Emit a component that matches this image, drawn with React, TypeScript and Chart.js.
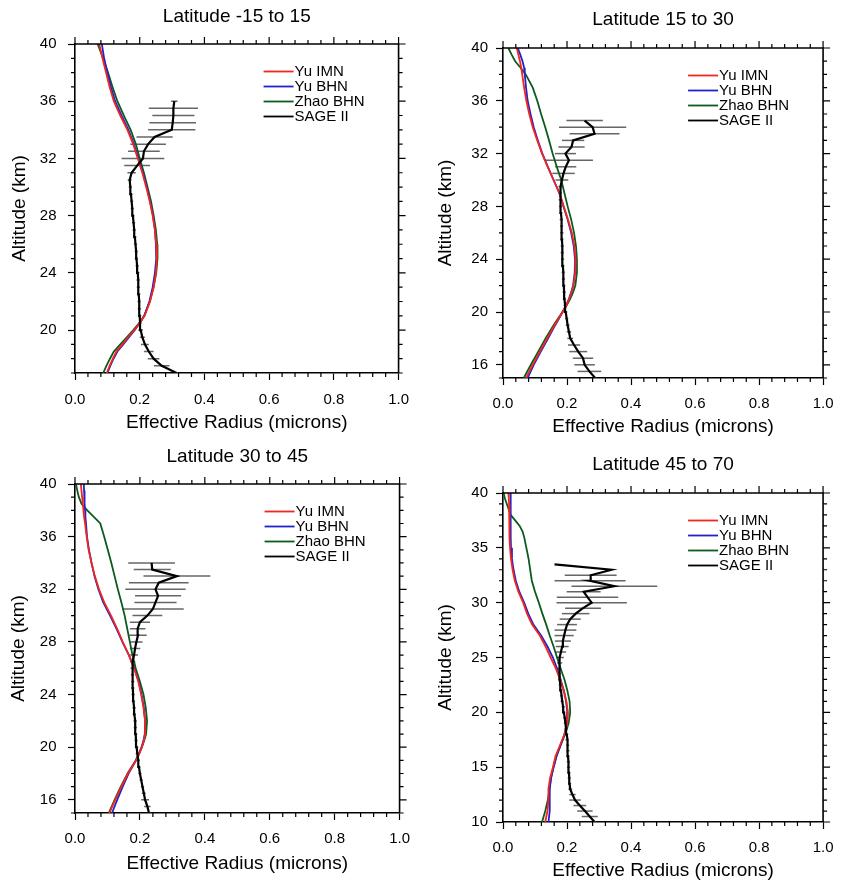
import React, { useEffect, useRef } from "react";
import { Chart, registerables } from "chart.js";

Chart.register(...registerables);

const FONT = "'Liberation Sans', Arial, Helvetica, sans-serif";

const seriesLabels = ["Yu IMN", "Yu BHN", "Zhao BHN", "SAGE II"];
const seriesColors = ["#f2261c", "#2222cc", "#0b5a1f", "#000000"];
const xTitle = "Effective Radius (microns)";
const yTitle = "Altitude (km)";
const xTickValues = [0, 0.2, 0.4, 0.6, 0.8, 1.0];
const xMinorStep = 0.04;
const yMinorStep = 1;

// ---------- Panel 1: Latitude -15 to 15 ----------
const p1Title = "Latitude -15 to 15";
const p1YMin = 17;
const p1YTicks = [20, 24, 28, 32, 36, 40];
const p1ModelAlt = [40, 39, 38, 37, 36, 35, 34, 33, 32, 31, 30, 29, 28, 27, 26, 25, 24, 23, 22, 21, 20.5, 20, 19.5, 19, 18.5, 18, 17.5, 17];
const p1YuIMN = [0.075, 0.085, 0.096, 0.107, 0.12, 0.14, 0.162, 0.18, 0.194, 0.208, 0.22, 0.231, 0.24, 0.247, 0.251, 0.253, 0.25, 0.243, 0.232, 0.215, 0.2, 0.183, 0.164, 0.146, 0.128, 0.117, 0.107, 0.098];
const p1YuBHN = [0.083, 0.09, 0.1, 0.111, 0.124, 0.144, 0.165, 0.182, 0.196, 0.21, 0.222, 0.232, 0.241, 0.247, 0.25, 0.251, 0.247, 0.24, 0.23, 0.214, 0.2, 0.185, 0.167, 0.149, 0.131, 0.119, 0.109, 0.1];
const p1ZhaoBHN = [0.07, 0.087, 0.102, 0.116, 0.131, 0.151, 0.172, 0.188, 0.2, 0.213, 0.224, 0.235, 0.243, 0.25, 0.254, 0.255, 0.251, 0.243, 0.231, 0.214, 0.199, 0.18, 0.16, 0.14, 0.12, 0.108, 0.097, 0.087];
const p1SageAlt = [17, 17.5, 18, 18.5, 19, 19.5, 20, 20.5, 21, 21.5, 22, 22.5, 23, 23.5, 24, 24.5, 25, 25.5, 26, 26.5, 27, 27.5, 28, 28.5, 29, 29.5, 30, 30.5, 31, 31.5, 32, 32.5, 33, 33.5, 34, 34.5, 35, 35.5, 36];
const p1Sage = [0.314, 0.268, 0.243, 0.228, 0.216, 0.208, 0.203, 0.201, 0.2, 0.199, 0.198, 0.197, 0.196, 0.195, 0.194, 0.192, 0.19, 0.189, 0.187, 0.185, 0.183, 0.181, 0.179, 0.177, 0.175, 0.173, 0.171, 0.169, 0.175, 0.192, 0.21, 0.213, 0.226, 0.246, 0.299, 0.302, 0.304, 0.304, 0.307];
const p1SageErr = [0.004, 0.024, 0.018, 0.015, 0.012, 0.008, 0.007, 0.005, 0.005, 0.005, 0.005, 0.005, 0.005, 0.005, 0.005, 0.005, 0.005, 0.005, 0.005, 0.005, 0.005, 0.005, 0.005, 0.005, 0.005, 0.005, 0.005, 0.006, 0.013, 0.04, 0.066, 0.049, 0.055, 0.056, 0.073, 0.072, 0.065, 0.076, 0.01];

// ---------- Panel 2: Latitude 15 to 30 ----------
const p2Title = "Latitude 15 to 30";
const p2YMin = 15;
const p2YTicks = [16, 20, 24, 28, 32, 36, 40];
const p2ModelAlt = [40, 39.5, 39, 38.5, 38, 37, 36, 35, 34, 33, 32, 31, 30, 29, 28, 27, 26, 25, 24, 23, 22, 21.5, 21, 20.5, 20, 19.5, 19, 18, 17, 16, 15];
const p2YuIMN = [0.043, 0.048, 0.053, 0.057, 0.06, 0.066, 0.073, 0.082, 0.093, 0.107, 0.122, 0.14, 0.158, 0.177, 0.19, 0.203, 0.215, 0.223, 0.227, 0.226, 0.22, 0.214, 0.207, 0.198, 0.186, 0.174, 0.161, 0.138, 0.115, 0.093, 0.072];
const p2YuBHN = [0.046, 0.054, 0.061, 0.066, 0.068, 0.072, 0.077, 0.086, 0.096, 0.109, 0.123, 0.14, 0.158, 0.176, 0.189, 0.202, 0.213, 0.221, 0.225, 0.224, 0.219, 0.213, 0.206, 0.197, 0.186, 0.175, 0.163, 0.141, 0.118, 0.096, 0.077];
const p2ZhaoBHN = [0.017, 0.027, 0.038, 0.055, 0.071, 0.093, 0.107, 0.119, 0.132, 0.144, 0.155, 0.168, 0.182, 0.192, 0.202, 0.213, 0.222, 0.228, 0.231, 0.231, 0.226, 0.219, 0.21, 0.199, 0.186, 0.172, 0.158, 0.133, 0.11, 0.087, 0.065];
const p2SageAlt = [15, 15.5, 16, 16.5, 17, 17.5, 18, 18.5, 19, 19.5, 20, 20.5, 21, 21.5, 22, 22.5, 23, 23.5, 24, 24.5, 25, 25.5, 26, 26.5, 27, 27.5, 28, 28.5, 29, 29.5, 30, 30.5, 31, 31.5, 32, 32.5, 33, 33.5, 34, 34.5];
const p2Sage = [0.288, 0.27, 0.255, 0.25, 0.235, 0.222, 0.21, 0.206, 0.202, 0.199, 0.196, 0.194, 0.192, 0.191, 0.19, 0.189, 0.188, 0.187, 0.186, 0.185, 0.185, 0.184, 0.184, 0.183, 0.182, 0.181, 0.18, 0.179, 0.179, 0.181, 0.184, 0.189, 0.196, 0.206, 0.195, 0.214, 0.219, 0.286, 0.28, 0.255];
const p2SageErr = [0.004, 0.037, 0.032, 0.032, 0.028, 0.019, 0.009, 0.007, 0.006, 0.005, 0.005, 0.005, 0.005, 0.005, 0.005, 0.005, 0.005, 0.005, 0.005, 0.005, 0.005, 0.005, 0.005, 0.005, 0.005, 0.005, 0.005, 0.005, 0.005, 0.008, 0.02, 0.035, 0.033, 0.075, 0.033, 0.041, 0.035, 0.078, 0.105, 0.057];

// ---------- Panel 3: Latitude 30 to 45 ----------
const p3Title = "Latitude 30 to 45";
const p3YMin = 15;
const p3YTicks = [16, 20, 24, 28, 32, 36, 40];
const p3ModelAlt = [40, 39.5, 39, 38.5, 38, 37.5, 37, 36, 35, 34, 33, 32, 31, 30, 29, 28, 27, 26, 25, 24, 23, 22, 21, 20.5, 20, 19.5, 19, 18, 17, 16, 15];
const p3YuIMN = [0.018, 0.02, 0.022, 0.024, 0.026, 0.028, 0.031, 0.036, 0.042, 0.051, 0.061, 0.074, 0.09, 0.111, 0.13, 0.147, 0.166, 0.182, 0.195, 0.204, 0.211, 0.216, 0.216, 0.212, 0.206, 0.198, 0.188, 0.163, 0.143, 0.124, 0.106];
const p3YuBHN = [0.027, 0.028, 0.029, 0.03, 0.031, 0.032, 0.034, 0.037, 0.043, 0.051, 0.06, 0.072, 0.087, 0.108, 0.128, 0.146, 0.166, 0.183, 0.196, 0.205, 0.212, 0.216, 0.215, 0.211, 0.205, 0.197, 0.188, 0.165, 0.147, 0.13, 0.114];
const p3ZhaoBHN = [0.003, 0.007, 0.012, 0.02, 0.038, 0.058, 0.078, 0.09, 0.101, 0.112, 0.122, 0.132, 0.143, 0.153, 0.161, 0.169, 0.177, 0.187, 0.2, 0.211, 0.218, 0.222, 0.219, 0.213, 0.206, 0.197, 0.187, 0.162, 0.141, 0.122, 0.104];
const p3SageAlt = [15, 15.5, 16, 16.5, 17, 17.5, 18, 18.5, 19, 19.5, 20, 20.5, 21, 21.5, 22, 22.5, 23, 23.5, 24, 24.5, 25, 25.5, 26, 26.5, 27, 27.5, 28, 28.5, 29, 29.5, 30, 30.5, 31, 31.5, 32, 32.5, 33, 33.5, 34];
const p3Sage = [0.228, 0.223, 0.216, 0.212, 0.208, 0.204, 0.2, 0.197, 0.195, 0.192, 0.19, 0.188, 0.187, 0.186, 0.185, 0.183, 0.182, 0.18, 0.179, 0.178, 0.178, 0.177, 0.177, 0.178, 0.182, 0.185, 0.189, 0.194, 0.193, 0.2, 0.223, 0.24, 0.248, 0.256, 0.248, 0.258, 0.314, 0.238, 0.236];
const p3SageErr = [0.004, 0.01, 0.012, 0.006, 0.005, 0.005, 0.005, 0.005, 0.005, 0.005, 0.005, 0.005, 0.005, 0.005, 0.005, 0.005, 0.005, 0.005, 0.005, 0.005, 0.005, 0.005, 0.006, 0.008, 0.012, 0.016, 0.019, 0.027, 0.024, 0.031, 0.046, 0.095, 0.065, 0.071, 0.093, 0.092, 0.103, 0.057, 0.072];

// ---------- Panel 4: Latitude 45 to 70 ----------
const p4Title = "Latitude 45 to 70";
const p4YMin = 10;
const p4YTicks = [10, 15, 20, 25, 30, 35, 40];
const p4ModelAlt = [40, 39.5, 39, 38.5, 38, 37.5, 37, 36.5, 36, 35, 34, 33, 32, 31, 30, 29, 28, 27, 26, 25, 24, 23, 22, 21, 20, 19, 18, 17, 16, 15, 14, 13, 12, 11, 10];
const p4YuIMN = [0.017, 0.018, 0.019, 0.02, 0.02, 0.02, 0.02, 0.02, 0.021, 0.022, 0.025, 0.03, 0.037, 0.048, 0.063, 0.075, 0.091, 0.115, 0.133, 0.149, 0.165, 0.178, 0.19, 0.198, 0.203, 0.201, 0.192, 0.178, 0.164, 0.156, 0.147, 0.142, 0.142, 0.139, 0.132];
const p4YuBHN = [0.024, 0.024, 0.024, 0.024, 0.024, 0.024, 0.024, 0.024, 0.024, 0.025, 0.028, 0.033, 0.04, 0.051, 0.066, 0.079, 0.095, 0.119, 0.139, 0.156, 0.169, 0.18, 0.19, 0.197, 0.201, 0.2, 0.192, 0.18, 0.167, 0.158, 0.15, 0.146, 0.146, 0.146, 0.142];
const p4ZhaoBHN = [0.002, 0.006, 0.012, 0.018, 0.024, 0.038, 0.052, 0.061, 0.066, 0.073, 0.08, 0.085, 0.09, 0.1, 0.112, 0.123, 0.135, 0.146, 0.158, 0.169, 0.18, 0.192, 0.201, 0.208, 0.21, 0.205, 0.194, 0.18, 0.167, 0.158, 0.15, 0.145, 0.14, 0.132, 0.122];
const p4SageAlt = [10, 10.5, 11, 11.5, 12, 12.5, 13, 13.5, 14, 14.5, 15, 15.5, 16, 16.5, 17, 17.5, 18, 18.5, 19, 19.5, 20, 20.5, 21, 21.5, 22, 22.5, 23, 23.5, 24, 24.5, 25, 25.5, 26, 26.5, 27, 27.5, 28, 28.5, 29, 29.5, 30, 30.5, 31, 31.5, 32, 32.5, 33, 33.5];
const p4Sage = [0.286, 0.271, 0.256, 0.24, 0.225, 0.217, 0.21, 0.208, 0.207, 0.206, 0.205, 0.204, 0.203, 0.203, 0.202, 0.2, 0.199, 0.197, 0.195, 0.193, 0.19, 0.188, 0.185, 0.183, 0.181, 0.179, 0.177, 0.176, 0.176, 0.177, 0.178, 0.181, 0.185, 0.187, 0.191, 0.195, 0.2, 0.21, 0.227, 0.25, 0.277, 0.264, 0.252, 0.348, 0.272, 0.274, 0.339, 0.161];
const p4SageErr = [0.004, 0.025, 0.024, 0.02, 0.018, 0.01, 0.006, 0.005, 0.005, 0.005, 0.005, 0.005, 0.005, 0.005, 0.005, 0.005, 0.005, 0.005, 0.005, 0.005, 0.005, 0.005, 0.005, 0.005, 0.005, 0.005, 0.005, 0.005, 0.006, 0.008, 0.012, 0.016, 0.02, 0.025, 0.03, 0.034, 0.031, 0.033, 0.043, 0.056, 0.11, 0.096, 0.053, 0.134, 0.111, 0.081, 0, 0];

const panelData = [
  { title: p1Title, yMin: p1YMin, yTicks: p1YTicks, modelAlt: p1ModelAlt, series: [p1YuIMN, p1YuBHN, p1ZhaoBHN], sageAlt: p1SageAlt, sage: p1Sage, sageErr: p1SageErr },
  { title: p2Title, yMin: p2YMin, yTicks: p2YTicks, modelAlt: p2ModelAlt, series: [p2YuIMN, p2YuBHN, p2ZhaoBHN], sageAlt: p2SageAlt, sage: p2Sage, sageErr: p2SageErr },
  { title: p3Title, yMin: p3YMin, yTicks: p3YTicks, modelAlt: p3ModelAlt, series: [p3YuIMN, p3YuBHN, p3ZhaoBHN], sageAlt: p3SageAlt, sage: p3Sage, sageErr: p3SageErr },
  { title: p4Title, yMin: p4YMin, yTicks: p4YTicks, modelAlt: p4ModelAlt, series: [p4YuIMN, p4YuBHN, p4ZhaoBHN], sageAlt: p4SageAlt, sage: p4Sage, sageErr: p4SageErr },
];

// Layout (positions / sizes only)
const panelBoxes = [
  { left: 0, top: 0, width: 420, height: 440, area: { l: 75, t: 44, r: 404, b: 373 }, titleY: 16.5, yTitleX: 19.5, xTitleY: 423, xLabelY: 400, yLabelRight: 56.5 },
  { left: 420, top: 0, width: 423, height: 440, area: { l: 83, t: 48, r: 412, b: 378 }, titleY: 20, yTitleX: 26, xTitleY: 427, xLabelY: 403.5, yLabelRight: 68 },
  { left: 0, top: 440, width: 420, height: 442, area: { l: 75, t: 44, r: 404, b: 373 }, titleY: 16.7, yTitleX: 19, xTitleY: 423.5, xLabelY: 399, yLabelRight: 56.5 },
  { left: 420, top: 440, width: 423, height: 442, area: { l: 83, t: 53, r: 412, b: 382 }, titleY: 25, yTitleX: 26, xTitleY: 431.5, xLabelY: 407.5, yLabelRight: 68 },
];

const TITLE_SIZE = 19;
const TICK_SIZE = 15;
const LEGEND_SIZE = 15;
const MAJOR_TL = 7;
const MINOR_TL = 4;

function buildConfig(d: any, box: any) {
  const lh = TITLE_SIZE * 1.2;
  const tickLh = TICK_SIZE * 1.2;
  const a = box.area;

  const datasets: any[] = d.series.map((vals: number[], i: number) => ({
    label: seriesLabels[i],
    data: d.modelAlt.map((alt: number, k: number) => ({ x: vals[k], y: alt })),
    borderColor: seriesColors[i],
    backgroundColor: seriesColors[i],
    borderWidth: 1.8,
    showLine: true,
    pointRadius: 0,
    tension: 0,
    order: i + 1,
  }));
  datasets.push({
    label: seriesLabels[3],
    data: d.sageAlt.map((alt: number, k: number) => ({ x: d.sage[k], y: alt })),
    borderColor: seriesColors[3],
    backgroundColor: seriesColors[3],
    borderWidth: 2.2,
    showLine: true,
    pointRadius: 0,
    tension: 0,
    order: 0,
  });

  const errorBars = {
    id: "errorBars",
    beforeDatasetsDraw(chart: any) {
      const { ctx, chartArea, scales } = chart;
      const xs = scales.x;
      const ys = scales.y;
      ctx.save();
      ctx.beginPath();
      ctx.rect(chartArea.left, chartArea.top, chartArea.right - chartArea.left, chartArea.bottom - chartArea.top);
      ctx.clip();
      ctx.strokeStyle = "#666666";
      ctx.lineWidth = 1.5;
      d.sageAlt.forEach((alt: number, k: number) => {
        const e = d.sageErr[k];
        if (!e) return;
        const py = ys.getPixelForValue(alt);
        ctx.beginPath();
        ctx.moveTo(xs.getPixelForValue(d.sage[k] - e), py);
        ctx.lineTo(xs.getPixelForValue(d.sage[k] + e), py);
        ctx.stroke();
      });
      ctx.restore();
    },
  };

  const frame = {
    id: "frame",
    afterDraw(chart: any) {
      const { ctx, chartArea: c, scales } = chart;
      const xs = scales.x;
      const ys = scales.y;
      ctx.save();
      ctx.strokeStyle = "#000";
      ctx.lineWidth = 1.6;
      ctx.beginPath();
      ctx.moveTo(c.left, c.top);
      ctx.lineTo(c.right, c.top);
      ctx.lineTo(c.right, c.bottom);
      ctx.stroke();
      ctx.lineWidth = 1.2;
      ctx.beginPath();
      const nx = Math.round(1 / xMinorStep);
      for (let k = 0; k <= nx; k++) {
        const v = k * xMinorStep;
        const px = xs.getPixelForValue(v);
        const major = xTickValues.some((t) => Math.abs(t - v) < 1e-6);
        const len = major ? MAJOR_TL : MINOR_TL;
        ctx.moveTo(px, c.top);
        ctx.lineTo(px, c.top - len);
        if (!major) {
          ctx.moveTo(px, c.bottom);
          ctx.lineTo(px, c.bottom + len);
        }
      }
      for (let v = d.yMin; v <= 40 + 1e-6; v += yMinorStep) {
        const py = ys.getPixelForValue(v);
        const major = d.yTicks.includes(v);
        const len = major ? MAJOR_TL : MINOR_TL;
        ctx.moveTo(c.right, py);
        ctx.lineTo(c.right + len, py);
        if (!major) {
          ctx.moveTo(c.left, py);
          ctx.lineTo(c.left - len, py);
        }
      }
      ctx.stroke();
      ctx.restore();
    },
  };

  const legendBox = {
    id: "legendBox",
    afterDraw(chart: any) {
      const { ctx, chartArea: c } = chart;
      ctx.save();
      ctx.font = `${LEGEND_SIZE}px ${FONT}`;
      ctx.textBaseline = "middle";
      ctx.textAlign = "left";
      const order = [0, 1, 2, 3];
      order.forEach((i, row) => {
        const ds = chart.data.datasets[i];
        const y = c.top + 27.5 + row * 15;
        const x0 = c.right - 135;
        ctx.strokeStyle = ds.borderColor;
        ctx.lineWidth = 1.8;
        ctx.beginPath();
        ctx.moveTo(x0, y);
        ctx.lineTo(x0 + 30, y);
        ctx.stroke();
        ctx.fillStyle = "#000";
        ctx.fillText(ds.label, x0 + 31, y + 0.5);
      });
      ctx.restore();
    },
  };

  return {
    type: "scatter",
    data: { datasets },
    plugins: [errorBars, frame, legendBox],
    options: {
      animation: false,
      responsive: false,
      maintainAspectRatio: false,
      devicePixelRatio: 1,
      layout: { padding: { left: 0, top: 0, right: box.width - a.r, bottom: 0 } },
      plugins: {
        legend: { display: false },
        tooltip: { enabled: false },
        title: {
          display: true,
          fullSize: false,
          text: d.title,
          color: "#000",
          font: { family: FONT, size: TITLE_SIZE, weight: "normal" },
          padding: { top: box.titleY - lh / 2, bottom: a.t - box.titleY - lh / 2 },
        },
      },
      scales: {
        x: {
          type: "linear",
          position: "bottom",
          min: 0,
          max: 1,
          afterFit: (s: any) => {
            s.height = box.height - a.b;
          },
          afterBuildTicks: (s: any) => {
            s.ticks = xTickValues.map((v) => ({ value: v }));
          },
          ticks: {
            autoSkip: false,
            maxRotation: 0,
            minRotation: 0,
            padding: box.xLabelY - a.b - MAJOR_TL - tickLh / 2,
            color: "#000",
            font: { family: FONT, size: TICK_SIZE },
            callback: (v: any) => Number(v).toFixed(1),
          },
          grid: { drawOnChartArea: false, drawTicks: true, tickLength: MAJOR_TL, tickColor: "#000", tickWidth: 1.2 },
          border: { display: true, color: "#000", width: 1.6 },
          title: {
            display: true,
            text: xTitle,
            color: "#000",
            font: { family: FONT, size: TITLE_SIZE },
            padding: { top: 0, bottom: Math.max(0, box.height - box.xTitleY - lh / 2) },
          },
        },
        y: {
          type: "linear",
          position: "left",
          min: d.yMin,
          max: 40,
          afterFit: (s: any) => {
            s.width = a.l;
          },
          afterBuildTicks: (s: any) => {
            s.ticks = d.yTicks.map((v: number) => ({ value: v }));
          },
          ticks: {
            autoSkip: false,
            padding: a.l - MAJOR_TL - box.yLabelRight,
            color: "#000",
            font: { family: FONT, size: TICK_SIZE },
            callback: (v: any) => String(v),
          },
          grid: { drawOnChartArea: false, drawTicks: true, tickLength: MAJOR_TL, tickColor: "#000", tickWidth: 1.2 },
          border: { display: true, color: "#000", width: 1.6 },
          title: {
            display: true,
            text: yTitle,
            color: "#000",
            font: { family: FONT, size: TITLE_SIZE },
            padding: { top: Math.max(0, box.yTitleX - lh / 2), bottom: 0 },
          },
        },
      },
    },
  };
}

function Panel({ data, box }: { data: any; box: any }) {
  const ref = useRef<HTMLCanvasElement | null>(null);
  useEffect(() => {
    if (!ref.current) return;
    const chart = new Chart(ref.current, buildConfig(data, box) as any);
    return () => chart.destroy();
  }, [data, box]);
  return (
    <canvas
      ref={ref}
      width={box.width}
      height={box.height}
      style={{ position: "absolute", left: box.left, top: box.top, width: box.width, height: box.height }}
    />
  );
}

export default function App() {
  return (
    <div style={{ position: "absolute", left: 0, top: 0, width: 843, height: 882, background: "#fff" }}>
      {panelData.map((d, i) => (
        <Panel key={i} data={d} box={panelBoxes[i]} />
      ))}
    </div>
  );
}
